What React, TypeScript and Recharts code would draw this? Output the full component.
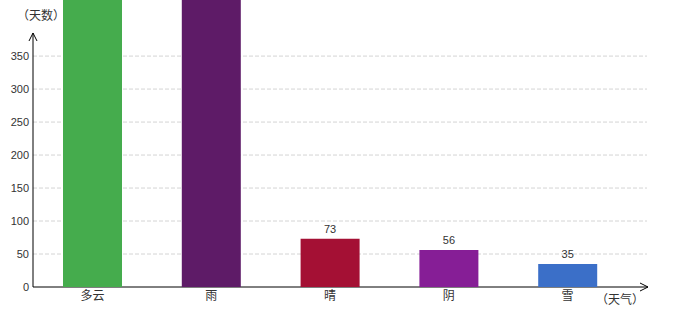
import { BarChart, Bar, XAxis, YAxis, CartesianGrid, Cell, LabelList, Customized } from 'recharts';

const categories = ['多云', '雨', '晴', '阴', '雪'];
const days = [480, 460, 73, 56, 35];
const colors = ['#45ac4d', '#5e1b67', '#a41034', '#861e96', '#3b6fc8'];
const yTicks = [0, 50, 100, 150, 200, 250, 300, 350];

const W = 680;
const H = 320;
const M = { top: 0, right: 33, bottom: 3, left: 0 };
const Y_W = 33;
const X_H = 30;
const Y_MAX = 435;
const AXIS_TOP = 385;

const PLOT_TOP = M.top;
const PLOT_BOTTOM = H - M.bottom - X_H;
const yPos = (v: number) => PLOT_BOTTOM - (v / Y_MAX) * (PLOT_BOTTOM - PLOT_TOP);

const NUM_FONT = '"Liberation Sans", Arial, "Noto Sans CJK SC", sans-serif';
const CJK_FONT = '"Noto Sans CJK SC", sans-serif';

const data = categories.map((name, i) => ({ name, value: days[i] }));

// bars taller than the visible area have their labels off-screen in the original
function ValueLabel(props: any) {
  const { x, y, width, value } = props;
  if (value > AXIS_TOP) return null;
  return (
    <text x={x + width / 2} y={y - 6} textAnchor="middle" fontSize={11} fill="#333" fontFamily={NUM_FONT}>
      {value}
    </text>
  );
}

function AxisDecor() {
  const left = M.left + Y_W;
  const right = W - M.right + 1;
  const bottom = PLOT_BOTTOM;
  const top = yPos(AXIS_TOP);
  return (
    <g>
      <line x1={left} y1={bottom} x2={left} y2={top} stroke="#000" strokeWidth={1} />
      <polyline points={`${left - 4},${top + 8} ${left},${top} ${left + 4},${top + 8}`} fill="none" stroke="#000" />
      <line x1={left} y1={bottom} x2={right} y2={bottom} stroke="#000" strokeWidth={1} />
      <polyline points={`${right - 8},${bottom - 4} ${right},${bottom} ${right - 8},${bottom + 4}`} fill="none" stroke="#000" />
      <text x={left - 16} y={20} fontSize={12} fontFamily={CJK_FONT} fill="#333">（天数）</text>
      <text x={right - 52} y={304} fontSize={12} fontFamily={CJK_FONT} fill="#333">（天气）</text>
    </g>
  );
}

export default function App() {
  return (
    <div style={{ position: 'fixed', left: 0, top: 0, background: '#fff' }}>
      <BarChart width={W} height={H} data={data} margin={M}>
        <CartesianGrid
          vertical={false}
          stroke="#d4d4d4"
          strokeDasharray="4 2"
          horizontalCoordinatesGenerator={() => yTicks.filter((t) => t > 0).map(yPos)}
        />
        <XAxis
          dataKey="name"
          axisLine={false}
          tickLine={false}
          tickSize={4}
          tickMargin={0}
          height={X_H}
          padding={{ left: 0, right: 20 }}
          tick={{ fontSize: 12, fill: '#333', fontFamily: CJK_FONT }}
        />
        <YAxis
          width={Y_W}
          domain={[0, Y_MAX]}
          ticks={yTicks}
          allowDataOverflow
          axisLine={false}
          tickLine={false}
          tickSize={4}
          tickMargin={0}
          tick={{ fontSize: 11, fill: '#333', fontFamily: NUM_FONT }}
        />
        <Bar dataKey="value" barSize={59} isAnimationActive={false}>
          {data.map((_, i) => (
            <Cell key={`cell-${i}`} fill={colors[i]} />
          ))}
          <LabelList dataKey="value" content={<ValueLabel />} />
        </Bar>
        <Customized component={<AxisDecor />} />
      </BarChart>
    </div>
  );
}
